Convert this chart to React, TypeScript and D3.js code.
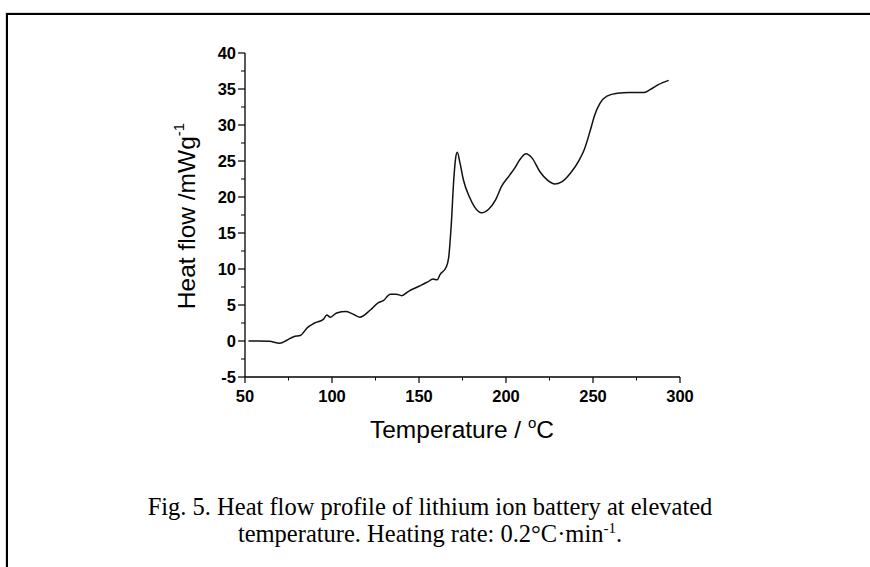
import React from "react";
import * as d3 from "d3";

const temperature = [52, 58, 64, 70, 74, 78, 82, 86, 90, 95, 97, 99, 102.7, 108, 111.5, 116, 122, 126.5, 129.5, 133.5, 137, 140, 144, 150, 155, 158, 160.5, 162, 165.5, 167, 168.5, 170, 171, 172, 173.5, 175.5, 179, 182, 186, 190, 194, 197.5, 202, 205, 208, 211.5, 215, 219.5, 224, 228, 232, 237, 242, 245, 248.5, 251, 254, 258, 264, 271, 279, 283, 287.5, 293.5];
const heatFlow = [0, 0.0, -0.05, -0.3, 0.1, 0.6, 0.8, 1.9, 2.5, 3.0, 3.6, 3.3, 3.9, 4.1, 3.8, 3.3, 4.3, 5.3, 5.6, 6.5, 6.5, 6.3, 6.9, 7.6, 8.2, 8.6, 8.5, 9.2, 10.2, 11.5, 16, 22.5, 25.3, 26.2, 24.8, 22.4, 20, 18.6, 17.8, 18.3, 19.6, 21.5, 23, 24, 25.2, 26, 25.4, 23.5, 22.3, 21.8, 22.1, 23.3, 25.1, 26.6, 29.3, 31.4, 33, 34, 34.4, 34.5, 34.5, 34.95, 35.6, 36.2];

const xTicks = [50, 100, 150, 200, 250, 300];
const xMinorTicks = [75, 125, 175, 225, 275];
const yTicks = [-5, 0, 5, 10, 15, 20, 25, 30, 35, 40];
const yMinorTicks = [-2.5, 2.5, 7.5, 12.5, 17.5, 22.5, 27.5, 32.5, 37.5];

const captionLines = [
  "Fig. 5. Heat flow profile of lithium ion battery at elevated",
  "temperature. Heating rate: 0.2\u00B0C\u00B7min",
];

export default function App() {
  const x = d3.scaleLinear().domain([50, 300]).range([245, 680]);
  const y = d3.scaleLinear().domain([-5, 40]).range([377, 53]);
  const pts = temperature.map((t, i) => [t, heatFlow[i]] as [number, number]);
  const line = d3
    .line<[number, number]>()
    .x((d) => x(d[0]))
    .y((d) => y(d[1]))
    .curve(d3.curveMonotoneX);

  const sans = "'Liberation Sans', Arial, sans-serif";
  const serif = "'Liberation Serif', 'Times New Roman', serif";

  return (
    <svg
      width={870}
      height={567}
      style={{ position: "absolute", left: 0, top: 0, background: "#fff" }}
    >
      <rect x={0} y={0} width={870} height={567} fill="#fff" />
      {/* frame */}
      <line x1={5} y1={12.5} x2={870} y2={12.5} stroke="#ddd" strokeWidth={1} />
      <line x1={5.5} y1={12} x2={5.5} y2={567} stroke="#ddd" strokeWidth={1} />
      <line x1={7} y1={14} x2={870} y2={14} stroke="#000" strokeWidth={2} />
      <line x1={7} y1={13} x2={7} y2={567} stroke="#000" strokeWidth={2} />

      {/* axes */}
      <line x1={x(50)} y1={y(40)} x2={x(50)} y2={y(-5)} stroke="#000" strokeWidth={1.3} />
      <line x1={x(50)} y1={y(-5)} x2={x(300)} y2={y(-5)} stroke="#000" strokeWidth={1.3} />
      {xTicks.map((t) => (
        <g key={"xt" + t}>
          <line x1={x(t)} x2={x(t)} y1={y(-5)} y2={y(-5) + 6} stroke="#000" strokeWidth={1.2} />
          <text
            x={x(t)}
            y={402}
            textAnchor="middle"
            fontFamily={sans}
            fontWeight="bold"
            fontSize={16.5}
          >
            {t}
          </text>
        </g>
      ))}
      {xMinorTicks.map((t) => (
        <line key={"xm" + t} x1={x(t)} x2={x(t)} y1={y(-5)} y2={y(-5) + 3.5} stroke="#000" strokeWidth={1} />
      ))}
      {yTicks.map((v) => (
        <g key={"yt" + v}>
          <line x1={x(50) - 7} x2={x(50)} y1={y(v)} y2={y(v)} stroke="#000" strokeWidth={1.2} />
          <text
            x={236}
            y={y(v)}
            dy="0.36em"
            textAnchor="end"
            fontFamily={sans}
            fontWeight="bold"
            fontSize={16.5}
          >
            {v}
          </text>
        </g>
      ))}
      {yMinorTicks.map((v) => (
        <line key={"ym" + v} x1={x(50) - 4} x2={x(50)} y1={y(v)} y2={y(v)} stroke="#000" strokeWidth={1} />
      ))}

      {/* data */}
      <path d={line(pts) || ""} fill="none" stroke="#111" strokeWidth={1.5} />

      {/* axis titles */}
      <text x={462} y={438} textAnchor="middle" fontFamily={sans} fontSize={24.5}>
        Temperature /{" "}
        <tspan fontSize={15} dy={-10}>o</tspan>
        <tspan dy={10}>C</tspan>
      </text>
      <text
        transform="translate(195,216) rotate(-90)"
        textAnchor="middle"
        fontFamily={sans}
        fontSize={24.5}
      >
        Heat flow /mWg
        <tspan fontSize={15} dy={-11}>-1</tspan>
      </text>

      {/* caption */}
      <text x={430} y={515} textAnchor="middle" fontFamily={serif} fontSize={24.5}>
        {captionLines[0]}
      </text>
      <text x={430} y={542} textAnchor="middle" fontFamily={serif} fontSize={24.5}>
        {captionLines[1]}
        <tspan fontSize={15} dy={-9}>-1</tspan>
        <tspan dy={9}>.</tspan>
      </text>
    </svg>
  );
}
